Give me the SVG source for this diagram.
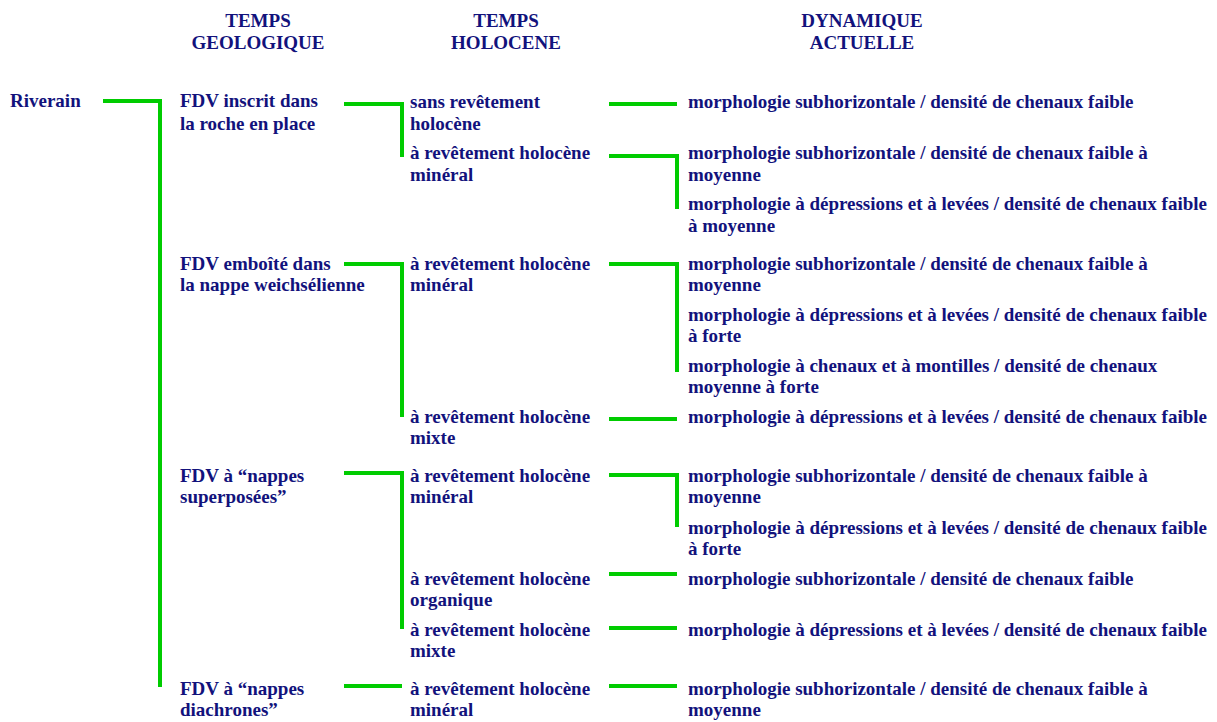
<svg xmlns="http://www.w3.org/2000/svg" width="1217" height="722" viewBox="0 0 1217 722">
<style>
text{font-family:"Liberation Serif","Times New Roman",serif;font-weight:bold;font-size:19px;fill:#12127c}
.h{text-anchor:middle}
.c{fill:none;stroke:#00cc00;stroke-width:4}
</style>
<rect width="1217" height="722" fill="#fff"/>
<g id="headers">
<text class="h" x="258" y="27">TEMPS</text><text class="h" x="258" y="49">GEOLOGIQUE</text>
<text class="h" x="506" y="27">TEMPS</text><text class="h" x="506" y="49">HOLOCENE</text>
<text class="h" x="862" y="27">DYNAMIQUE</text><text class="h" x="862" y="49">ACTUELLE</text>
</g>
<g id="connectors">
<path class="c" d="M103,101H160V687"/>
<path class="c" d="M344,104H402V157"/>
<path class="c" d="M344,264H402V417"/>
<path class="c" d="M344,473H402V629"/>
<path class="c" d="M344,686H402"/>
<path class="c" d="M609,104H677"/>
<path class="c" d="M609,156H677V209"/>
<path class="c" d="M609,264H677V372"/>
<path class="c" d="M609,419H677"/>
<path class="c" d="M609,475H677V527"/>
<path class="c" d="M609,574H677"/>
<path class="c" d="M609,628H677"/>
<path class="c" d="M609,686H677"/>
</g>
<g id="n-riverain"><text x="10" y="107">Riverain</text></g>
<g id="n-fdv1"><text x="180" y="107">FDV inscrit dans</text><text x="180" y="129.5">la roche en place</text></g>
<g id="n-fdv2"><text x="180" y="270">FDV emboîté dans</text><text x="180" y="291">la nappe weichsélienne</text></g>
<g id="n-fdv3"><text x="180" y="482">FDV à “nappes</text><text x="180" y="503">superposées”</text></g>
<g id="n-fdv4"><text x="180" y="695">FDV à “nappes</text><text x="180" y="716">diachrones”</text></g>
<g id="n-h1"><text x="410" y="108">sans revêtement</text><text x="410" y="130">holocène</text></g>
<g id="n-h2"><text x="410" y="159">à revêtement holocène</text><text x="410" y="181">minéral</text></g>
<g id="n-h3"><text x="410" y="270">à revêtement holocène</text><text x="410" y="291">minéral</text></g>
<g id="n-h4"><text x="410" y="423">à revêtement holocène</text><text x="410" y="444">mixte</text></g>
<g id="n-h5"><text x="410" y="482">à revêtement holocène</text><text x="410" y="503">minéral</text></g>
<g id="n-h6"><text x="410" y="585">à revêtement holocène</text><text x="410" y="606">organique</text></g>
<g id="n-h7"><text x="410" y="636">à revêtement holocène</text><text x="410" y="657">mixte</text></g>
<g id="n-h8"><text x="410" y="695">à revêtement holocène</text><text x="410" y="716">minéral</text></g>
<g id="n-d1"><text x="688" y="108">morphologie subhorizontale / densité de chenaux faible</text></g>
<g id="n-d2"><text x="688" y="159">morphologie subhorizontale / densité de chenaux faible à</text><text x="688" y="181">moyenne</text></g>
<g id="n-d3"><text x="688" y="210">morphologie à dépressions et à levées / densité de chenaux faible</text><text x="688" y="232">à moyenne</text></g>
<g id="n-d4"><text x="688" y="270">morphologie subhorizontale / densité de chenaux faible à</text><text x="688" y="291">moyenne</text></g>
<g id="n-d5"><text x="688" y="321">morphologie à dépressions et à levées / densité de chenaux faible</text><text x="688" y="342">à forte</text></g>
<g id="n-d6"><text x="688" y="372">morphologie à chenaux et à montilles / densité de chenaux</text><text x="688" y="393">moyenne à forte</text></g>
<g id="n-d7"><text x="688" y="423">morphologie à dépressions et à levées / densité de chenaux faible</text></g>
<g id="n-d8"><text x="688" y="482">morphologie subhorizontale / densité de chenaux faible à</text><text x="688" y="503">moyenne</text></g>
<g id="n-d9"><text x="688" y="534">morphologie à dépressions et à levées / densité de chenaux faible</text><text x="688" y="555">à forte</text></g>
<g id="n-d10"><text x="688" y="585">morphologie subhorizontale / densité de chenaux faible</text></g>
<g id="n-d11"><text x="688" y="636">morphologie à dépressions et à levées / densité de chenaux faible</text></g>
<g id="n-d12"><text x="688" y="695">morphologie subhorizontale / densité de chenaux faible à</text><text x="688" y="716">moyenne</text></g>
</svg>
